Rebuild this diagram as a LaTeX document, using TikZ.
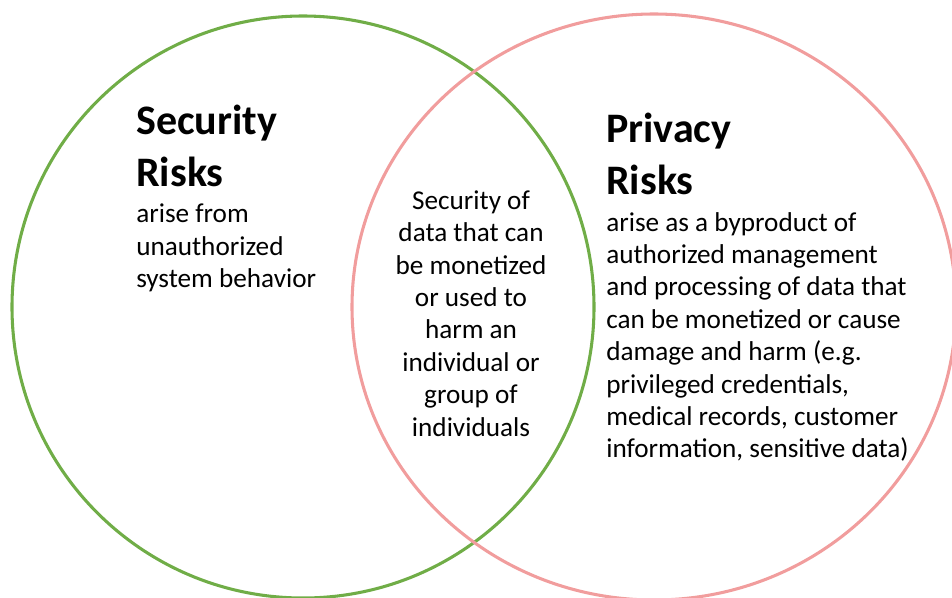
\documentclass[tikz,border=0pt]{standalone}
\usepackage{fontspec}
\setmainfont{Carlito}
\usetikzlibrary{positioning}
\definecolor{secgreen}{RGB}{112,173,71}
\definecolor{privpink}{RGB}{241,157,157}

\begin{document}
\begin{tikzpicture}[
        x=0.75pt, y=-0.75pt,
        node distance=13pt,
        ring/.style={line width=2.3pt},
        head/.style={font=\fontsize{31.5}{38.3}\selectfont\bfseries, align=left, inner sep=0pt},
        body/.style={font=\fontsize{20.4}{24.3}\selectfont, align=left, inner sep=0pt}
    ]
    \useasboundingbox (0,0) rectangle (952,597);

    % the two sets
    \draw[ring, secgreen] (303,307) circle[radius=291];
    \draw[ring, privpink] (654,307) ellipse[x radius=302, y radius=293];

    % left set
    \node[head, anchor=base west] (secHead) at (136,186) {Security\\Risks};
    \node[body, below=of secHead.south west, anchor=north west] (secBody) {arise from\\unauthorized\\system behavior};

    % right set
    \node[head, anchor=base west] (privHead) at (606,194) {Privacy\\Risks};
    \node[body, below=of privHead.south west, anchor=north west] (privBody) {arise as a byproduct of\\authorized management\\and processing of data that\\can be monetized or cause\\damage and harm (e.g.\\privileged credentials,\\medical records, customer\\information, sensitive data)};

    % overlap
    \node[body, align=center, anchor=base] (overlap) at (471,436) {Security of\\data that can\\be monetized\\or used to\\harm an\\individual or\\group of\\individuals};

\end{tikzpicture}
\end{document}
